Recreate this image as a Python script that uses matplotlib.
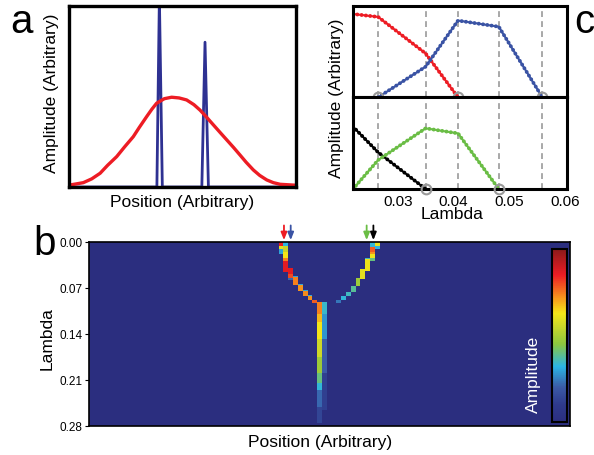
import numpy as np
import matplotlib.pyplot as plt
from matplotlib import transforms
from matplotlib.colors import LinearSegmentedColormap

plt.rcParams['font.family'] = ['Liberation Sans', 'DejaVu Sans']

# ---- panel a: signal (blue spikes) and smoothing kernel (red) ----
spike_x = [0.0, 0.387, 0.398, 0.411, 0.585, 0.599, 0.614, 1.0]
spike_y = [0.0, 0.0, 1.05, 0.0, 0.0, 0.80, 0.0, 0.0]
kern_x = [0.004, 0.063, 0.10, 0.137, 0.17, 0.21, 0.245, 0.283, 0.31, 0.342, 0.365,
          0.386, 0.42, 0.452, 0.485, 0.518, 0.55, 0.577, 0.605, 0.636, 0.665, 0.695,
          0.725, 0.753, 0.78, 0.812, 0.84, 0.871, 0.90, 0.93, 0.996]
kern_y = [0.011, 0.024, 0.045, 0.076, 0.12, 0.168, 0.222, 0.278, 0.33, 0.389, 0.43,
          0.463, 0.488, 0.496, 0.492, 0.481, 0.455, 0.425, 0.387, 0.343, 0.302, 0.26,
          0.218, 0.177, 0.137, 0.094, 0.064, 0.039, 0.024, 0.015, 0.01]

# ---- panel c: component amplitudes vs lambda ----
lam_red = [0.022, 0.0265, 0.035, 0.0408]
amp_red = [0.912, 0.88, 0.48, 0.0]
lam_blue = [0.0265, 0.035, 0.0408, 0.0481, 0.0559]
amp_blue = [0.0, 0.335, 0.84, 0.773, 0.0]
lam_black = [0.022, 0.0265, 0.035]
amp_black = [0.68, 0.40, 0.0]
lam_green = [0.022, 0.0265, 0.035, 0.0408, 0.0481]
amp_green = [0.0, 0.316, 0.662, 0.607, 0.0]
knots = [0.0265, 0.035, 0.0408, 0.0481, 0.0559]
zeros_top = [0.0265, 0.0408, 0.0559]
zeros_bottom = [0.035, 0.0481]
c_ticks = [0.03, 0.04, 0.05, 0.06]

# ---- panel b: amplitude map (column, lambda start, lambda end, value) ----
n_cols = 100
lam_max = 0.28
lam_step = 0.001
heat_cells = [
    # left branch
    (39, 0.000, 0.008, 0.85), (39, 0.008, 0.012, 0.60), (39, 0.012, 0.020, 0.30),
    (40, 0.000, 0.008, 0.32), (40, 0.008, 0.016, 0.55), (40, 0.016, 0.025, 0.63),
    (40, 0.025, 0.030, 0.74), (40, 0.030, 0.047, 0.86),
    (41, 0.041, 0.050, 0.86), (41, 0.050, 0.056, 0.80), (41, 0.056, 0.059, 0.22),
    (42, 0.053, 0.055, 0.30), (42, 0.055, 0.067, 0.74),
    (43, 0.065, 0.067, 0.30), (43, 0.067, 0.076, 0.72),
    (44, 0.074, 0.076, 0.30), (44, 0.076, 0.084, 0.73),
    (45, 0.082, 0.084, 0.30), (45, 0.084, 0.090, 0.72),
    (46, 0.089, 0.094, 0.78),
    # stem
    (47, 0.093, 0.111, 0.74), (47, 0.111, 0.123, 0.68), (47, 0.123, 0.149, 0.63),
    (47, 0.149, 0.175, 0.56), (47, 0.175, 0.200, 0.48), (47, 0.200, 0.215, 0.40),
    (47, 0.215, 0.225, 0.33), (47, 0.225, 0.251, 0.22), (47, 0.251, 0.276, 0.14),
    (48, 0.093, 0.111, 0.34), (48, 0.111, 0.149, 0.28), (48, 0.149, 0.200, 0.20),
    (48, 0.200, 0.256, 0.12),
    # right branch
    (59, 0.000, 0.008, 0.60), (59, 0.008, 0.012, 0.32),
    (58, 0.002, 0.009, 0.33), (58, 0.009, 0.016, 0.78), (58, 0.016, 0.020, 0.72),
    (58, 0.020, 0.025, 0.62), (58, 0.025, 0.030, 0.40),
    (57, 0.025, 0.027, 0.35), (57, 0.027, 0.045, 0.62),
    (56, 0.043, 0.058, 0.60),
    (55, 0.056, 0.068, 0.48),
    (54, 0.068, 0.077, 0.38),
    (53, 0.077, 0.084, 0.35),
    (52, 0.084, 0.090, 0.33),
    (51, 0.090, 0.094, 0.24),
]
b_ticks = [0.00, 0.07, 0.14, 0.21, 0.28]
arrow_x = [40.5, 41.9, 57.7, 59.1]
arrow_col = ['#ed1c24', '#3a53a4', '#6abd45', 'black']

heat = np.zeros((int(round(lam_max / lam_step)), n_cols))
for col, l0, l1, v in heat_cells:
    r0 = int(round(l0 / lam_step))
    r1 = max(int(round(l1 / lam_step)), r0 + 1)
    heat[r0:r1, col] = v

navy = '#2b2e7f'
cmap = LinearSegmentedColormap.from_list('amp', [
    (0.0, navy), (0.1, '#2e3a8c'), (0.2, '#3b5aa6'), (0.32, '#2bb5e5'),
    (0.45, '#8cc63f'), (0.55, '#c8d62b'), (0.63, '#f4e618'), (0.72, '#f7941d'),
    (0.85, '#ed1c24'), (1.0, '#8b1a1a')])

fig = plt.figure(figsize=(5.94, 4.55), dpi=100)
fs = 12.5

# panel a
ax_a = fig.add_axes([0.1162, 0.589, 0.3822, 0.3978])
ax_a.plot(spike_x, spike_y, color='#2e3192', lw=2.0)
ax_a.plot(kern_x, kern_y, color='#ed1c24', lw=2.4)
ax_a.set_xlim(0, 1)
ax_a.set_ylim(0, 1)
ax_a.set_xticks([])
ax_a.set_yticks([])
for s in ax_a.spines.values():
    s.set_linewidth(2.4)
fig.text(0.0875, 0.7956, 'Amplitude (Arbitrary)', rotation=90, ha='center', va='center', fontsize=fs)
fig.text(0.3064, 0.556, 'Position (Arbitrary)', ha='center', va='center', fontsize=fs)


def beaded(ax, x, y, c):
    ax.plot(x, y, color=c, lw=1.5)
    ax.plot(x, y, color=c, lw=2.8, linestyle=(0, (0.01, 1.1)), dash_capstyle='round')


# panel c
ax_c1 = fig.add_axes([0.5943, 0.7862, 0.361, 0.2007])
ax_c2 = fig.add_axes([0.5943, 0.5846, 0.361, 0.2015])
for ax in (ax_c1, ax_c2):
    ax.set_xlim(0.022, 0.0604)
    ax.set_ylim(0, 1)
    ax.set_yticks([])
    for k in knots:
        ax.axvline(k, color='#999999', lw=1.2, dashes=(3.5, 2.5), zorder=1)
    for s in ax.spines.values():
        s.set_linewidth(2.2)
beaded(ax_c1, lam_red, amp_red, '#ed1c24')
beaded(ax_c1, lam_blue, amp_blue, '#3a53a4')
beaded(ax_c2, lam_black, amp_black, 'black')
beaded(ax_c2, lam_green, amp_green, '#6abd45')
ax_c1.plot(zeros_top, [0] * len(zeros_top), 'o', ms=7, mfc='none', mec='#999999', mew=1.5,
           clip_on=False, zorder=5)
ax_c2.plot(zeros_bottom, [0] * len(zeros_bottom), 'o', ms=7, mfc='none', mec='#999999', mew=1.5,
           clip_on=False, zorder=5)
ax_c1.set_xticks([])
ax_c2.set_xticks(c_ticks)
ax_c2.set_xticklabels(['%.2f' % t for t in c_ticks], fontsize=11)
ax_c2.tick_params(axis='x', length=0, pad=4)
fig.text(0.567, 0.785, 'Amplitude (Arbitrary)', rotation=90, ha='center', va='center', fontsize=fs)
fig.text(0.761, 0.5275, 'Lambda', ha='center', va='center', fontsize=fs)

# panel b
ax_b = fig.add_axes([0.1503, 0.0637, 0.8093, 0.4044])
ax_b.set_facecolor(navy)
im = ax_b.imshow(heat, cmap=cmap, vmin=0, vmax=1, aspect='auto',
                 extent=(0.45, n_cols + 0.45, lam_max, 0), interpolation='nearest')
ax_b.set_xlim(0, n_cols)
ax_b.set_ylim(lam_max, 0)
ax_b.set_xticks([])
ax_b.set_yticks(b_ticks)
ax_b.set_yticklabels(['%.2f' % t for t in b_ticks], fontsize=8.5)
ax_b.tick_params(axis='y', length=3, width=0.8, pad=2)
for s in ax_b.spines.values():
    s.set_linewidth(1.2)
trans = transforms.blended_transform_factory(ax_b.transData, ax_b.transAxes)
for x, c in zip(arrow_x, arrow_col):
    ax_b.annotate('', xy=(x, 1.01), xytext=(x, 1.09), xycoords=trans, textcoords=trans,
                  arrowprops=dict(arrowstyle='-|>,head_length=0.45,head_width=0.18', color=c,
                                  lw=1.3, shrinkA=0, shrinkB=0))
fig.text(0.079, 0.257, 'Lambda', rotation=90, ha='center', va='center', fontsize=fs)
fig.text(0.5387, 0.0264, 'Position (Arbitrary)', ha='center', va='center', fontsize=fs)

cax = fig.add_axes([0.9293, 0.0725, 0.02525, 0.3802])
cb = fig.colorbar(im, cax=cax)
cb.set_ticks([])
cb.outline.set_linewidth(1.5)
cb.outline.set_edgecolor('black')
fig.text(0.8973, 0.178, 'Amplitude', rotation=90, ha='center', va='center', fontsize=fs, color='white')

# panel letters
fig.text(0.018, 0.9275, 'a', fontsize=29, va='baseline')
fig.text(0.057, 0.4396, 'b', fontsize=29, va='baseline')
fig.text(0.966, 0.9275, 'c', fontsize=29, va='baseline')

fig.savefig('out.png', dpi=100)
